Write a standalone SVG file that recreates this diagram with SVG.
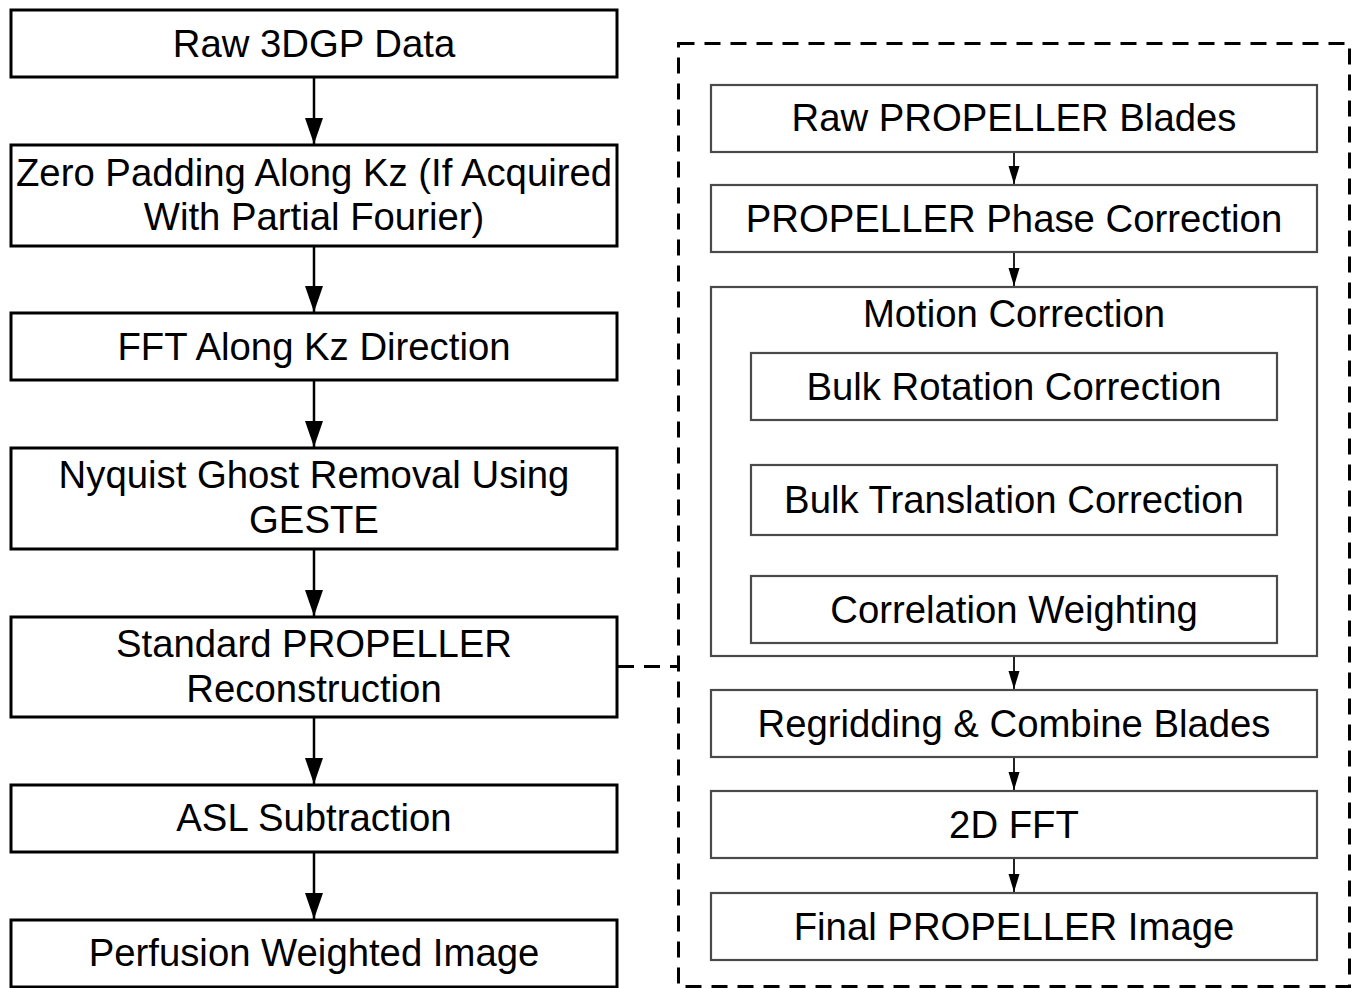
<svg xmlns="http://www.w3.org/2000/svg" width="1360" height="988" viewBox="0 0 1360 988">
  <style>
    .box { fill: #fff; stroke: #000; stroke-width: 3; }
    .sub { fill: #fff; stroke: #4a4a4a; stroke-width: 2.2; }
    .lbl { font-family: "Liberation Sans", Arial, sans-serif; font-size: 38.3px; fill: #000; text-anchor: middle; dominant-baseline: central; }
    .edge { stroke: #000; stroke-width: 2.5; fill: none; }
    .edge-s { stroke: #222; stroke-width: 2; fill: none; }
    .dash { stroke: #000; stroke-width: 3; fill: none; stroke-dasharray: 16 10; }
  </style>
  <defs>
    <!-- arrowheads drawn along +x so orient="auto" follows the line -->
    <marker id="arrowL" markerUnits="userSpaceOnUse" markerWidth="26" markerHeight="20" refX="26" refY="10" orient="auto" viewBox="0 0 26 20">
      <path d="M0,1 L26,10 L0,19 Z" fill="#000"/>
    </marker>
    <marker id="arrowS" markerUnits="userSpaceOnUse" markerWidth="18" markerHeight="12" refX="18" refY="6" orient="auto" viewBox="0 0 18 12">
      <path d="M0,0.5 L18,6 L0,11.5 Z" fill="#000"/>
    </marker>
  </defs>

  <!-- main pipeline connectors -->
  <g id="connectors">
    <line class="edge" x1="314" y1="78" x2="314" y2="144" marker-end="url(#arrowL)"/>
    <line class="edge" x1="314" y1="247" x2="314" y2="312" marker-end="url(#arrowL)"/>
    <line class="edge" x1="314" y1="381" x2="314" y2="447" marker-end="url(#arrowL)"/>
    <line class="edge" x1="314" y1="550" x2="314" y2="616" marker-end="url(#arrowL)"/>
    <line class="edge" x1="314" y1="718" x2="314" y2="784" marker-end="url(#arrowL)"/>
    <line class="edge" x1="314" y1="853" x2="314" y2="919" marker-end="url(#arrowL)"/>

    <!-- PROPELLER detail chain -->
    <line class="edge-s" x1="1014" y1="153" x2="1014" y2="184" marker-end="url(#arrowS)"/>
    <line class="edge-s" x1="1014" y1="253" x2="1014" y2="286" marker-end="url(#arrowS)"/>
    <line class="edge-s" x1="1014" y1="421" x2="1014" y2="464" marker-end="url(#arrowS)"/>
    <line class="edge-s" x1="1014" y1="536" x2="1014" y2="575" marker-end="url(#arrowS)"/>
    <line class="edge-s" x1="1014" y1="657" x2="1014" y2="689" marker-end="url(#arrowS)"/>
    <line class="edge-s" x1="1014" y1="758" x2="1014" y2="790" marker-end="url(#arrowS)"/>
    <line class="edge-s" x1="1014" y1="859" x2="1014" y2="892" marker-end="url(#arrowS)"/>

    <!-- link from reconstruction step to its expanded view -->
    <line class="dash" x1="618" y1="666.5" x2="678" y2="666.5" stroke-dasharray="22 11"/>
  </g>

  <!-- left column -->
  <g id="raw3dgp">
    <rect class="box" x="11" y="10" width="606" height="67"/>
    <text class="lbl" x="314" y="43">Raw 3DGP Data</text>
  </g>
  <g id="zeropad">
    <rect class="box" x="11" y="145" width="606" height="101"/>
    <text class="lbl" x="314" y="172">Zero Padding Along Kz (If Acquired</text>
    <text class="lbl" x="314" y="216">With Partial Fourier)</text>
  </g>
  <g id="fftkz">
    <rect class="box" x="11" y="313" width="606" height="67"/>
    <text class="lbl" x="314" y="346">FFT Along Kz Direction</text>
  </g>
  <g id="nyquist">
    <rect class="box" x="11" y="448" width="606" height="101"/>
    <text class="lbl" x="314" y="474">Nyquist Ghost Removal Using</text>
    <text class="lbl" x="314" y="519">GESTE</text>
  </g>
  <g id="stdprop">
    <rect class="box" x="11" y="617" width="606" height="100"/>
    <text class="lbl" x="314" y="643">Standard PROPELLER</text>
    <text class="lbl" x="314" y="688">Reconstruction</text>
  </g>
  <g id="aslsub">
    <rect class="box" x="11" y="785" width="606" height="67"/>
    <text class="lbl" x="314" y="817">ASL Subtraction</text>
  </g>
  <g id="pwi">
    <rect class="box" x="11" y="920" width="606" height="67"/>
    <text class="lbl" x="314" y="952">Perfusion Weighted Image</text>
  </g>

  <!-- expanded PROPELLER reconstruction -->
  <g id="propeller-group">
    <rect class="dash" x="678.5" y="43.5" width="671" height="943" fill="none"/>
  </g>
  <g id="rawblades">
    <rect class="sub" x="711" y="85" width="606" height="67"/>
    <text class="lbl" x="1014" y="117">Raw PROPELLER Blades</text>
  </g>
  <g id="phasecorr">
    <rect class="sub" x="711" y="185" width="606" height="67"/>
    <text class="lbl" x="1014" y="218">PROPELLER Phase Correction</text>
  </g>
  <g id="motioncorr">
    <rect class="sub" x="711" y="287" width="606" height="369"/>
    <text class="lbl" x="1014" y="313">Motion Correction</text>
  </g>
  <g id="bulkrot">
    <rect class="sub" x="751" y="353" width="526" height="67"/>
    <text class="lbl" x="1014" y="386">Bulk Rotation Correction</text>
  </g>
  <g id="bulktrans">
    <rect class="sub" x="751" y="465" width="526" height="70"/>
    <text class="lbl" x="1014" y="499">Bulk Translation Correction</text>
  </g>
  <g id="corrweight">
    <rect class="sub" x="751" y="576" width="526" height="67"/>
    <text class="lbl" x="1014" y="609">Correlation Weighting</text>
  </g>
  <g id="regrid">
    <rect class="sub" x="711" y="690" width="606" height="67"/>
    <text class="lbl" x="1014" y="723">Regridding &amp; Combine Blades</text>
  </g>
  <g id="fft2d">
    <rect class="sub" x="711" y="791" width="606" height="67"/>
    <text class="lbl" x="1014" y="824">2D FFT</text>
  </g>
  <g id="finalimg">
    <rect class="sub" x="711" y="893" width="606" height="67"/>
    <text class="lbl" x="1014" y="926">Final PROPELLER Image</text>
  </g>
</svg>
